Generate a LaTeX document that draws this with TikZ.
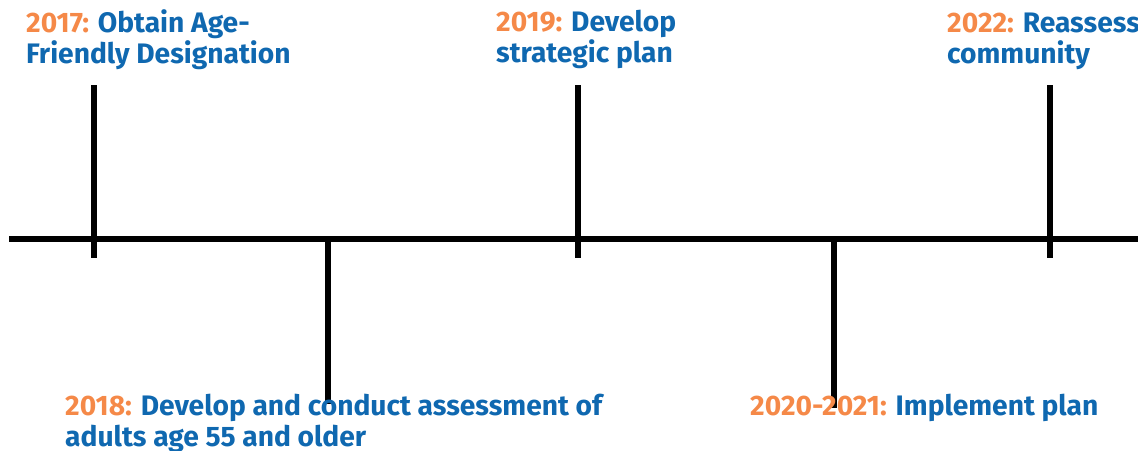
\documentclass[tikz,border=0pt]{standalone}
\usepackage{fontspec}
\setmainfont{Fira Sans}
\usepackage{xcolor}
\usetikzlibrary{positioning}
\definecolor{yearorange}{RGB}{245,137,72}
\definecolor{eventblue}{RGB}{15,104,176}
\tikzset{
  timeline/.style={line width=6pt},
  timetick/.style={line width=6pt},
  event/.style={anchor=base west, inner sep=0pt, align=left, text=eventblue,
    font=\bfseries\fontsize{28.2}{31}\selectfont},
}
\newcommand{\yr}[1]{\textcolor{yearorange}{#1}}

\begin{document}
\begin{tikzpicture}[x=1pt,y=-1pt]
    \useasboundingbox (0,0) rectangle (1138,450);

    % Main line
    \coordinate (lineL) at (9,239);
    \coordinate (lineR) at (1138,239);
    \draw[timeline] (lineL) -- (lineR);

    % 2017
    \coordinate (y17top) at (94,85);
    \coordinate (y17bot) at (94,258);
    \draw[timetick] (y17top) -- (y17bot);
    \node[event] (y17) at (26,63) {\yr{2017:} Obtain Age-\\Friendly Designation};

    % 2018
    \coordinate (y18top) at (328,239);
    \coordinate (y18bot) at (328,404);
    \draw[timetick] (y18top) -- (y18bot);
    \node[event] (y18) at (65,446) {\yr{2018:} Develop and conduct assessment of\\adults age 55 and older};

    % 2019
    \coordinate (y19top) at (578,85);
    \coordinate (y19bot) at (578,258);
    \draw[timetick] (y19top) -- (y19bot);
    \node[event] (y19) at (496,62) {\yr{2019:} Develop\\strategic plan};

    % 2020-2021
    \coordinate (y20top) at (834,239);
    \coordinate (y20bot) at (834,408);
    \draw[timetick] (y20top) -- (y20bot);
    \node[event] (y20) at (750,415) {\yr{2020-2021:} Implement plan};

    % 2022
    \coordinate (y22top) at (1050,85);
    \coordinate (y22bot) at (1050,258);
    \draw[timetick] (y22top) -- (y22bot);
    \node[event] (y22) at (947,63) {\yr{2022:} Reassess\\community};
\end{tikzpicture}
\end{document}
